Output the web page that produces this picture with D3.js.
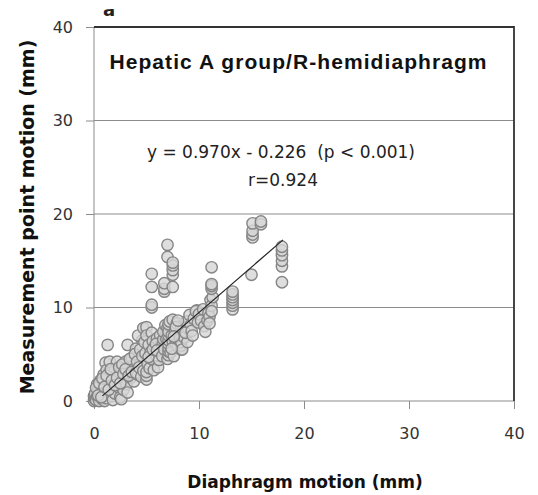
<!DOCTYPE html>
<html>
<head>
    <title>Hepatic A group</title>
    <style>
        body { margin: 0; background: #fff; }
        svg { display: block; }
    </style>
</head>
<body>
    <svg id="chart" width="538" height="495"></svg>

    <script src="https://d3js.org/d3.v7.min.js"></script>
    <script>
        const samples = [
            [0.0, 0.0], [0.0, 0.5], [0.1, 0.2], [0.1, 0.8], [0.2, 0.1], [0.3, 0.5], [0.3, 1.8], [0.4, 1.0],
            [0.5, 0.3], [0.5, 0.0], [0.6, 0.8], [0.6, 2.2], [0.7, 1.5], [0.8, 0.2], [0.9, 1.2], [0.9, 2.8],
            [1.0, 0.6], [1.0, 2.0], [1.0, 0.0], [1.1, 1.0], [1.1, 4.1], [1.2, 0.3], [1.2, 3.3], [1.3, 6.0],
            [1.3, 1.6], [1.4, 2.4], [1.5, 0.9], [1.5, 3.0], [1.5, 4.2], [1.6, 1.9], [1.7, 0.5], [1.8, 2.6],
            [1.8, 0.1], [1.9, 1.3], [2.0, 0.8], [2.0, 3.3], [2.1, 2.0], [2.2, 4.2], [2.3, 1.5], [2.4, 2.8],
            [2.5, 0.4], [2.6, 3.5], [2.6, 0.2], [2.7, 2.2], [2.8, 1.2], [2.9, 3.0], [3.0, 4.2], [3.0, 2.5],
            [3.1, 1.8], [3.2, 0.9], [3.2, 6.0], [3.4, 3.3], [3.5, 2.5], [3.6, 4.6], [3.7, 3.8], [3.8, 2.1],
            [0.2, 1.4], [0.4, 0.6], [0.5, 1.9], [0.7, 0.4], [0.8, 2.4], [1.0, 1.5], [1.2, 2.7], [1.4, 1.2],
            [1.6, 3.4], [1.7, 2.2], [2.0, 1.7], [2.2, 2.5], [2.4, 3.6], [2.5, 1.9], [2.7, 3.9], [2.8, 2.9],
            [3.0, 3.4], [3.3, 2.7], [3.4, 4.5], [3.6, 3.1], [4.0, 5.6], [4.2, 2.8], [4.4, 4.0], [4.6, 6.5],
            [3.9, 5.0], [4.0, 3.0], [4.1, 4.2], [4.2, 7.0], [4.3, 3.6], [4.4, 5.5], [4.5, 2.6], [4.6, 4.8],
            [4.7, 7.8], [4.7, 3.2], [4.8, 6.3], [4.9, 5.1], [5.0, 2.3], [5.0, 2.7], [5.0, 3.1], [5.0, 7.9],
            [5.0, 7.0], [5.1, 4.0], [5.2, 6.0], [5.3, 3.5], [5.4, 5.2], [5.5, 4.5], [5.5, 7.3], [5.6, 6.4],
            [5.7, 3.3], [5.8, 5.8], [5.9, 4.9], [6.0, 6.7], [6.1, 3.6], [6.2, 5.2], [6.3, 7.0], [6.4, 6.1],
            [5.2, 4.7], [5.6, 5.5], [5.9, 6.1], [6.2, 4.4], [6.5, 5.9], [6.8, 7.0], [6.0, 5.4], [6.6, 6.6],
            [6.5, 4.8], [6.6, 7.4], [6.7, 5.5], [6.8, 8.1], [6.9, 6.6], [7.0, 4.5], [7.0, 7.8],
            [7.1, 4.9], [7.1, 5.3], [7.1, 5.7], [7.1, 6.1], [7.1, 6.5], [7.1, 7.0], [7.1, 7.4], [7.1, 8.2],
            [7.2, 8.5], [7.3, 5.2], [7.4, 7.0], [7.5, 6.4], [7.5, 8.7], [7.6, 4.8], [7.7, 7.5], [7.8, 6.1],
            [7.9, 8.3], [8.0, 5.8], [8.1, 7.1], [8.2, 6.6], [8.3, 5.5], [8.3, 5.9], [8.3, 6.3], [8.3, 8.0],
            [8.4, 5.5], [8.5, 7.6], [8.6, 6.8], [8.8, 8.5], [8.9, 6.3], [9.0, 7.7], [9.1, 9.2], [9.2, 8.1],
            [7.8, 7.9], [8.0, 8.6], [8.7, 7.3], [9.3, 7.5], [7.4, 5.6], [7.6, 6.9], [9.8, 9.7], [10.1, 9.0],
            [9.4, 7.0], [9.5, 8.8], [9.7, 9.6], [9.9, 8.4], [10.0, 9.3], [10.2, 8.6], [10.4, 9.8],
            [10.5, 8.0], [10.6, 7.4], [10.8, 8.6], [10.9, 9.4], [11.0, 9.0], [11.0, 8.3], [11.1, 10.8],
            [11.2, 10.2], [11.2, 9.6], [11.3, 11.1], [11.2, 12.0], [11.2, 12.3], [11.2, 12.5], [11.2, 14.3],
            [13.2, 9.8], [13.2, 10.2], [13.2, 10.5], [13.2, 10.8], [13.2, 11.1], [13.2, 11.4], [13.2, 11.7],
            [15.0, 13.5], [15.1, 17.5], [15.1, 17.8], [15.1, 18.2], [15.1, 19.0], [15.9, 18.9], [15.9, 19.2],
            [17.9, 12.7], [17.9, 14.4], [17.9, 15.0], [17.9, 15.6], [17.9, 16.1], [17.9, 16.5],
            [5.5, 10.0], [5.5, 10.3], [5.5, 12.2], [5.5, 13.6], [6.7, 11.7], [6.7, 12.0], [6.7, 12.6],
            [7.0, 15.4], [7.0, 16.7], [7.5, 12.2], [7.5, 13.5], [7.5, 14.0], [7.5, 14.5], [7.5, 14.8]
        ];

        const xTicks = [0, 10, 20, 30, 40];
        const yTicks = [0, 10, 20, 30, 40];
        const fit = { slope: 0.970, intercept: -0.226, from: 0.8, to: 18 };

        const titleText = "Hepatic A group/R-hemidiaphragm";
        const equationText = "y = 0.970x - 0.226  (p < 0.001)";
        const rText = "r=0.924";
        const xLabel = "Diaphragm motion (mm)";
        const yLabel = "Measurement point motion (mm)";

        const svg = d3.select("#chart");
        const mLeft = 94, mRight = 514, mTop = 27, mBottom = 401;

        const x = d3.scaleLinear().domain([0, 40]).range([mLeft, mRight]);
        const y = d3.scaleLinear().domain([0, 40]).range([mBottom, mTop]);

        // little cut-off panel letter at the top
        svg.append("clipPath").attr("id", "cut")
            .append("rect").attr("x", 95).attr("y", 9).attr("width", 30).attr("height", 8);
        svg.append("text")
            .attr("clip-path", "url(#cut)")
            .attr("x", 103).attr("y", 16)
            .attr("font-family", "DejaVu Sans").attr("font-weight", "bold")
            .attr("font-size", 18).attr("fill", "#222")
            .text("a");

        // gridlines
        svg.append("g")
            .selectAll("line")
            .data(yTicks.filter(d => d > 0 && d < 40))
            .join("line")
            .attr("x1", mLeft).attr("x2", mRight)
            .attr("y1", d => y(d)).attr("y2", d => y(d))
            .attr("stroke", "#8c8c8c").attr("stroke-width", 1);

        // axes
        const yAxis = svg.append("g")
            .attr("transform", `translate(${mLeft},0)`)
            .call(d3.axisLeft(y).tickValues(yTicks).tickSize(8).tickPadding(13));
        const xAxis = svg.append("g")
            .attr("transform", `translate(0,${mBottom})`)
            .call(d3.axisBottom(x).tickValues(xTicks).tickSize(8).tickPadding(19));

        [yAxis, xAxis].forEach(g => {
            g.selectAll("path, line").attr("stroke", "#8c8c8c").attr("stroke-width", 1);
            g.selectAll("text")
                .attr("fill", "#333")
                .attr("font-family", "DejaVu Sans")
                .attr("font-size", 16);
        });
        xAxis.select(".domain").attr("d", `M${mLeft},0H${mRight}`);
        yAxis.select(".domain").attr("d", `M0,${mBottom}V${mTop}`);

        // top and right frame
        svg.append("path")
            .attr("d", `M${mLeft},${mTop}H${mRight}V${mBottom}`)
            .attr("fill", "none")
            .attr("stroke", "#333").attr("stroke-width", 1.8);

        // points
        svg.append("g")
            .selectAll("circle")
            .data(samples)
            .join("circle")
            .attr("cx", d => x(d[0]))
            .attr("cy", d => y(d[1]))
            .attr("r", 5.7)
            .attr("fill", "#d6d6d6")
            .attr("fill-opacity", 0.8)
            .attr("stroke", "#858585")
            .attr("stroke-width", 1.4);

        // regression line
        svg.append("line")
            .attr("x1", x(fit.from)).attr("y1", y(fit.slope * fit.from + fit.intercept))
            .attr("x2", x(fit.to)).attr("y2", y(fit.slope * fit.to + fit.intercept))
            .attr("stroke", "#222").attr("stroke-width", 1.2);

        // texts
        svg.append("text")
            .attr("x", 298).attr("y", 69)
            .attr("text-anchor", "middle")
            .attr("font-family", "Liberation Sans").attr("font-weight", "bold")
            .attr("font-size", 21).attr("fill", "#111")
            .attr("textLength", 377).attr("lengthAdjust", "spacing")
            .text(titleText);

        svg.append("text")
            .attr("x", 281).attr("y", 158)
            .attr("text-anchor", "middle")
            .attr("font-family", "DejaVu Sans")
            .attr("font-size", 17).attr("fill", "#222")
            .attr("xml:space", "preserve")
            .text(equationText);

        svg.append("text")
            .attr("x", 283).attr("y", 186)
            .attr("text-anchor", "middle")
            .attr("font-family", "DejaVu Sans")
            .attr("font-size", 17).attr("fill", "#222")
            .text(rText);

        svg.append("text")
            .attr("x", 305).attr("y", 488)
            .attr("text-anchor", "middle")
            .attr("font-family", "DejaVu Sans").attr("font-weight", "bold")
            .attr("font-size", 17).attr("fill", "#111")
            .text(xLabel);

        svg.append("text")
            .attr("transform", "translate(34,217) rotate(-90)")
            .attr("text-anchor", "middle")
            .attr("font-family", "DejaVu Sans").attr("font-weight", "bold")
            .attr("font-size", 19).attr("fill", "#111")
            .text(yLabel);
    </script>
</body>
</html>
